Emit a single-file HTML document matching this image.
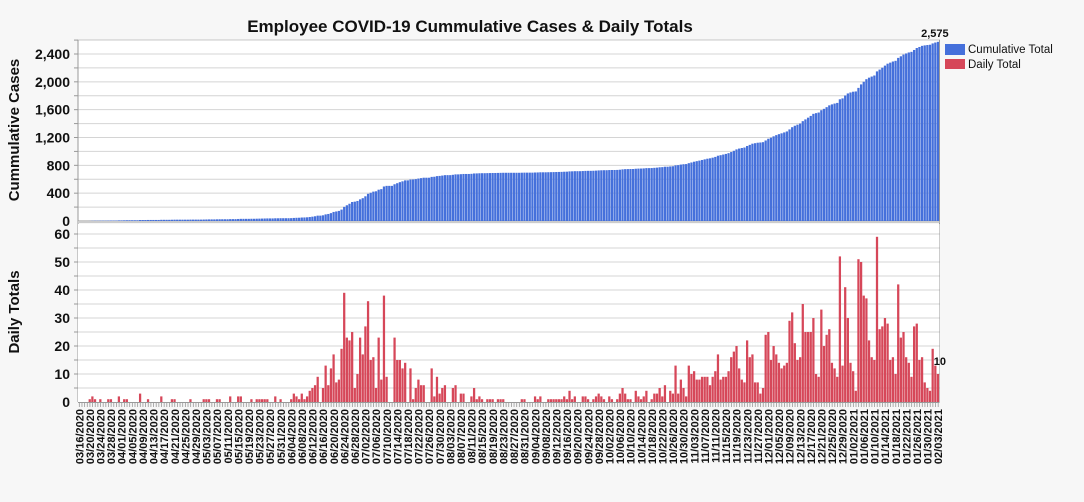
<!DOCTYPE html>
<html><head><meta charset="utf-8"><style>
html,body{margin:0;padding:0;background:#f7f7f7;overflow:hidden;width:1084px;height:502px;}
svg{display:block;}
svg text{font-family:"Liberation Sans",sans-serif;}
</style></head><body>
<svg id="chart" width="1084" height="502" xmlns="http://www.w3.org/2000/svg">
<text x="470" y="32" text-anchor="middle" font-size="17" font-weight="bold" fill="#111">Employee COVID-19 Cummulative Cases &amp; Daily Totals</text>
<text transform="translate(19,130) rotate(-90)" text-anchor="middle" font-size="15" font-weight="bold" fill="#111">Cummulative Cases</text>
<text transform="translate(19,312) rotate(-90)" text-anchor="middle" font-size="15" font-weight="bold" fill="#111">Daily Totals</text>
<g id="gtop"></g>
<g id="gbot"></g>
<g id="xl"></g>
<g>
<rect x="945" y="44" width="20" height="11" fill="#4570db"/>
<text x="968" y="53" font-size="11.5" fill="#111">Cumulative Total</text>
<rect x="945" y="59" width="20" height="10" fill="#d64759"/>
<text x="968" y="68" font-size="11.5" fill="#111">Daily Total</text>
</g>
</svg>
<script>
const startDate = [2020, 2, 16];
const dailyValues = [
0,0,0,0,1,2,1,0,1,0,0,1,1,0,0,2,0,1,1,0,0,0,0,3,0,0,1,0,0,0,0,2,0,0,0,1,1,0,0,0,0,0,1,0,0,0,0,1,1,1,0,0,1,1,0,0,0,2,0,0,2,2,0,0,0,1,0,1,1,1,1,1,0,0,2,0,1,0,0,0,1,
3,2,1,3,1,2,4,5,6,9,0,5,13,6,12,17,7,8,19,39,23,22,25,5,10,
23,17,27,36,15,16,5,23,8,38,9,0,0,23,15,15,12,14,0,12,1,5,8,6,6,0,0,12,2,9,3,5,6,0,0,5,6,0,3,3,0,0,2,5,1,2,1,0,1,1,1,0,1,1,1,0,0,0,0,0,0,1,1,0,0,0,2,1,2,0,0,1,1,1,1,1,1,2,1,4,1,2,0,0,2,2,1,0,1,2,3,2,1,0,2,1,0,1,3,5,3,1,1,0,4,2,1,2,4,0,1,
3,3,5,2,6,0,4,3,13,3,8,5,2,13,10,11,8,8,9,9,9,6,9,11,17,8,9,9,11,16,18,20,12,8,7,22,16,17,7,7,3,5,24,25,15,20,17,14,12,13,14,29,32,21,15,16,35,25,25,25,30,10,9,33,20,24,26,14,12,9,52,13,41,30,14,11,4,51,50,38,37,22,16,15,59,26,27,30,28,15,16,10,42,23,25,16,14,9,27,28,15,16,7,5,4,19,13,10
];
const topTicks = [0,400,800,1200,1600,2000,2400];
const botTicks = [0,10,20,30,40,50,60];

const NS="http://www.w3.org/2000/svg";
function mk(parent,tag,attrs){const e=document.createElementNS(NS,tag);for(const k in attrs)e.setAttribute(k,attrs[k]);parent.appendChild(e);return e;}
const cumValues=[];let run=0;for(const v of dailyValues){run+=v;cumValues.push(run);}
const N=dailyValues.length;
const X0=78,X1=939.5,bw=(X1-X0)/N;
const xs=i=>X0+i*bw;
const yTop=v=>221-v*(167/2400);
const yBot=v=>402-v*(168/60);
const gTop=document.getElementById('gtop'),gBot=document.getElementById('gbot'),xl=document.getElementById('xl');
let r=mk(gTop,'rect',{x:X0,y:40,width:X1-X0,height:181,fill:'#fff',stroke:'#999','stroke-width':1});


r=mk(gBot,'rect',{x:X0,y:224,width:X1-X0,height:178,fill:'#fff'});


for(let v=200;v<=2600;v+=200){const y=yTop(v);if(y<40)break;const l=mk(gTop,'line',{x1:X0,x2:X1,y1:y,y2:y,stroke:'#d4d4d4','stroke-width':1});


mk(gTop,'line',{x1:X0-4,x2:X0,y1:y,y2:y,stroke:'#999'});}
for(let v=5;v<=60;v+=5){const y=yBot(v);const l=mk(gBot,'line',{x1:X0,x2:X1,y1:y,y2:y,stroke:'#d4d4d4','stroke-width':1});


mk(gBot,'line',{x1:X0-4,x2:X0,y1:y,y2:y,stroke:'#999'});}
topTicks.forEach(v=>{const t=mk(gTop,'text',{x:70,y:yTop(v)+5,'text-anchor':'end','font-size':14,'font-weight':'bold',fill:'#111'});t.textContent=v.toLocaleString('en-US');

});
botTicks.forEach(v=>{const t=mk(gBot,'text',{x:70,y:yBot(v)+5,'text-anchor':'end','font-size':14,'font-weight':'bold',fill:'#111'});t.textContent=v;

});
cumValues.forEach((v,i)=>{const y=yTop(v);const b=mk(gTop,'rect',{x:xs(i),y:y,width:bw-0.4,height:221-y,fill:'#4570db'});

});
dailyValues.forEach((v,i)=>{if(!v)return;const y=yBot(v);const b=mk(gBot,'rect',{x:xs(i),y:y,width:bw-0.4,height:402-y,fill:'#d64759'});

});
mk(gTop,'line',{x1:X0,x2:X0,y1:40,y2:402,stroke:'#999'});
mk(gTop,'line',{x1:X1,x2:X1,y1:40,y2:402,stroke:'#999'});
mk(gTop,'line',{x1:X0,x2:X1,y1:222,y2:222,stroke:'#ccc','stroke-width':2});
mk(gBot,'line',{x1:X0,x2:X1,y1:402.5,y2:402.5,stroke:'#999'});
for(let i=0;i<N;i++){mk(gBot,'line',{x1:xs(i)+bw/2,x2:xs(i)+bw/2,y1:403,y2:407,stroke:'#999','stroke-width':0.8});}
let t=mk(gTop,'text',{x:xs(N-1)-2,y:37,'text-anchor':'middle','font-size':11,'font-weight':'bold',fill:'#111'});
t.textContent=cumValues[N-1].toLocaleString('en-US');


t=mk(gBot,'text',{x:xs(N-1)+3,y:yBot(dailyValues[N-1])-9,'text-anchor':'middle','font-size':11,'font-weight':'bold',fill:'#111'});
t.textContent=dailyValues[N-1];


const d0=new Date(startDate[0],startDate[1],startDate[2]);
const pad=n=>String(n).padStart(2,'0');
for(let i=0;i<N;i+=4){const d=new Date(d0.getTime());d.setDate(d.getDate()+i);
const s=pad(d.getMonth()+1)+'/'+pad(d.getDate())+'/'+d.getFullYear();
const cx=xs(i)+bw/2+4;
const tl=mk(xl,'text',{transform:`translate(${cx},409) rotate(-90)`,'text-anchor':'end','font-size':11,'font-weight':'bold',fill:'#111'});
tl.textContent=s;

}
</script>
</body></html>
